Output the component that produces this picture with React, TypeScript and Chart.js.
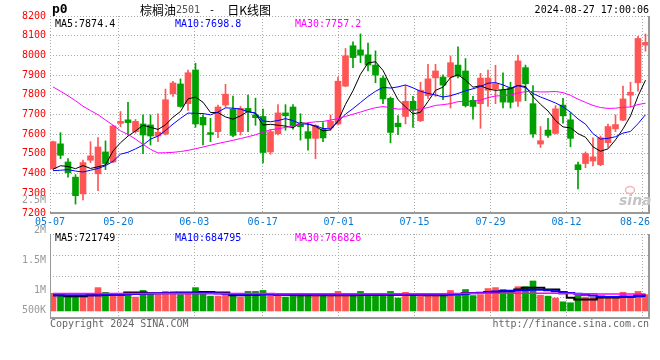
import React, { useEffect, useRef } from "react";
import { Chart, registerables } from "chart.js";

Chart.register(...registerables);

const dates = [
  "05-07","05-08","05-09","05-10","05-13","05-14","05-15","05-16","05-17","05-20",
  "05-21","05-22","05-23","05-24","05-27","05-28","05-29","05-30","05-31","06-03",
  "06-04","06-05","06-06","06-07","06-11","06-12","06-13","06-14","06-17","06-18",
  "06-19","06-20","06-21","06-24","06-25","06-26","06-27","06-28","07-01","07-02",
  "07-03","07-04","07-05","07-08","07-09","07-10","07-11","07-12","07-15","07-16",
  "07-17","07-18","07-19","07-22","07-23","07-24","07-25","07-26","07-29","07-30",
  "07-31","08-01","08-02","08-05","08-06","08-07","08-08","08-09","08-12","08-13",
  "08-14","08-15","08-16","08-19","08-20","08-21","08-22","08-23","08-26","08-27",
];

const open = [
  7425,7551,7459,7382,7297,7468,7399,7510,7459,7655,
  7673,7613,7652,7647,7591,7601,7805,7855,7755,7926,
  7686,7608,7613,7748,7727,7613,7731,7698,7690,7510,
  7602,7708,7738,7652,7613,7579,7627,7632,7652,7844,
  8049,8028,8003,7951,7885,7782,7656,7690,7767,7668,
  7796,7886,7890,7890,7951,7921,7772,7755,7823,7830,
  7823,7835,7767,7938,7755,7550,7621,7604,7748,7673,
  7445,7451,7464,7445,7557,7627,7671,7798,7861,8052,
];
const high = [
  7565,7608,7476,7395,7468,7562,7583,7566,7645,7715,
  7762,7675,7698,7698,7704,7829,7868,7881,7926,7960,
  7698,7681,7748,7853,7793,7741,7798,7783,7728,7624,
  7750,7750,7750,7704,7656,7648,7659,7698,7890,8035,
  8069,8109,8062,8023,7896,7789,7695,7847,7792,7864,
  7955,7955,7902,7997,8044,7984,7792,7909,7926,7950,
  7912,7864,8001,7951,7847,7639,7680,7745,7782,7710,
  7459,7510,7582,7591,7652,7698,7844,7864,8097,8109,
];
const low = [
  7420,7476,7382,7245,7266,7456,7313,7420,7455,7638,
  7595,7605,7501,7545,7562,7596,7792,7737,7721,7635,
  7545,7562,7583,7738,7587,7596,7613,7645,7454,7498,
  7596,7620,7626,7570,7519,7476,7562,7620,7647,7841,
  7938,7963,7921,7861,7755,7556,7597,7652,7635,7664,
  7782,7792,7775,7733,7886,7738,7676,7630,7741,7755,
  7733,7733,7741,7770,7584,7533,7584,7601,7656,7536,
  7322,7430,7439,7440,7533,7613,7669,7738,7818,8021,
];
const close = [
  7562,7493,7404,7288,7456,7490,7535,7451,7642,7665,
  7659,7665,7596,7591,7610,7775,7860,7741,7912,7652,
  7647,7599,7738,7803,7594,7731,7716,7684,7507,7613,
  7708,7694,7642,7638,7579,7644,7581,7666,7869,7998,
  7989,8001,7951,7900,7779,7609,7638,7767,7721,7823,
  7881,7921,7849,7963,7895,7745,7741,7885,7885,7856,
  7763,7762,7972,7856,7601,7567,7594,7729,7693,7579,
  7420,7502,7485,7582,7639,7649,7779,7813,8086,8066,
];

const ma5 = [
  7422,7440,7436,7425,7440.6,7426.2,7434.6,7444,7514.8,7556.6,
  7590.4,7616.4,7645.4,7635.2,7624.2,7647.4,7686.4,7715.4,7779.6,7788,
  7762.4,7710.2,7709.6,7687.8,7676.2,7693,7716.4,7705.6,7646.4,7650.2,
  7645.6,7641.2,7632.8,7659,7652.2,7639.4,7616.8,7621.6,7667.8,7751.6,
  7820.6,7904.6,7961.6,7967.8,7924,7848,7775.4,7738.6,7702.8,7711.6,
  7766,7822.6,7839,7887.4,7901.8,7874.6,7838.6,7845.8,7830.2,7822.4,
  7826,7830.2,7847.6,7841.8,7790.8,7751.6,7718,7669.4,7636.8,7632.4,
  7603,7584.6,7535.8,7513.6,7525.6,7571.4,7626.8,7692.4,7793.2,7874.4,
];
const ma10 = [
  7415,7417,7420,7413,7408,7417,7426,7440,7462,7498.6,
  7508.3,7525.5,7544.7,7575,7590.4,7618.9,7651.4,7680.4,7707.4,7706.1,
  7704.9,7698.3,7712.5,7733.7,7732.1,7727.7,7713.3,7707.6,7667.1,7663.2,
  7669.3,7678.8,7669.2,7652.7,7651.2,7642.5,7629,7627.2,7663.4,7701.9,
  7730,7760.7,7791.6,7817.8,7837.8,7834.3,7840,7850.1,7835.3,7817.8,
  7807,7799,7788.8,7795.1,7806.7,7820.3,7830.6,7842.4,7858.8,7862.1,
  7850.3,7834.4,7846.7,7836,7806.6,7788.8,7774.1,7758.5,7739.3,7711.6,
  7677.3,7651.3,7602.6,7575.2,7579,7587.2,7605.7,7614.1,7653.4,7698.8,
];
const ma30 = [
  7840,7818,7795,7770,7742,7720,7699,7672,7646,7617,
  7599,7575,7548,7523,7505,7506,7508,7512,7518,7526,
  7535,7544,7553,7561,7569,7578,7587,7597,7610,7622.6,
  7627.5,7634.2,7642.1,7653.8,7657.9,7663,7664.6,7671.7,7679.3,7690.4,
  7701.4,7712.6,7724.4,7734.7,7740.4,7734.8,7727.4,7728.3,7721.9,7727.6,
  7735.4,7746.2,7749.9,7755.2,7765.2,7765.7,7766.5,7773.2,7785.8,7793.9,
  7795.8,7798,7809,7816.3,7817,7814.5,7814.9,7817,7811.1,7797.2,
  7778.2,7761.6,7746,7735.4,7730.8,7732.1,7736.8,7738.3,7750.5,7757.2,
];

const volume = [
  804000,701000,645000,675000,688000,718000,1062000,847000,744000,744000,
  787000,632000,933000,847000,744000,890000,890000,744000,847000,1062000,
  847000,675000,675000,744000,701000,632000,890000,890000,933000,701000,
  701000,632000,675000,804000,701000,675000,675000,675000,890000,804000,
  675000,890000,701000,804000,804000,890000,589000,847000,701000,675000,
  744000,675000,744000,933000,701000,976000,701000,744000,1019000,1062000,
  976000,860000,1105000,1105000,1363000,718000,675000,589000,417000,374000,
  718000,632000,632000,632000,632000,632000,847000,632000,890000,744000,
];
const volMa5 = [
  714000,714000,669000,669000,669000,714000,714000,737000,737000,737000,
  837000,837000,837000,800000,800000,820000,820000,837000,837000,837000,
  860000,860000,837000,837000,714000,714000,737000,737000,760000,760000,
  737000,737000,737000,714000,714000,714000,714000,714000,714000,714000,
  714000,737000,737000,737000,737000,737000,737000,737000,737000,737000,
  714000,714000,714000,760000,760000,814000,814000,814000,860000,860000,
  900000,900000,973000,1050000,1050000,1050000,973000,973000,800000,600000,
  519000,519000,519000,610000,610000,610000,650000,650000,700000,721749,
];
const volMa10 = [
  720000,720000,720000,720000,720000,720000,720000,730000,740000,750000,
  760000,770000,780000,790000,800000,800000,800000,800000,800000,800000,
  800000,800000,790000,780000,770000,760000,760000,760000,760000,760000,
  750000,740000,730000,730000,730000,730000,730000,730000,730000,730000,
  730000,730000,730000,730000,740000,740000,740000,740000,740000,740000,
  740000,740000,740000,750000,760000,780000,800000,830000,860000,880000,
  900000,920000,940000,950000,960000,960000,940000,900000,860000,820000,
  780000,740000,700000,660000,640000,640000,640000,650000,670000,684795,
];
const volMa30 = [
  790000,790000,790000,790000,790000,790000,790000,790000,790000,790000,
  790000,790000,790000,790000,790000,790000,790000,790000,790000,790000,
  790000,790000,790000,790000,790000,790000,790000,790000,790000,790000,
  785000,785000,785000,785000,785000,785000,785000,785000,785000,785000,
  785000,785000,785000,785000,785000,785000,785000,785000,785000,785000,
  785000,785000,785000,790000,795000,800000,805000,810000,810000,810000,
  810000,810000,810000,810000,810000,810000,805000,800000,795000,790000,
  785000,780000,778000,775000,772000,770000,768000,767000,767000,766826,
];

const dateTicks = ["05-07","05-20","06-03","06-17","07-01","07-15","07-29","08-12","08-26"];
const volTickLabels = ["2.5M","2M","1.5M","1M","500K"];

const UP_COLOR = "#ff5555";
const DOWN_COLOR = "#00a000";
const MA5_COLOR = "#000000";
const MA10_COLOR = "#0000ff";
const MA30_COLOR = "#ff00ff";
const GRID_COLOR = "#a8a8a8";
const FRAME_COLOR = "#999999";
const MONO = "'DejaVu Sans Mono', 'Liberation Mono', monospace";
const CJK = "'Noto Sans CJK SC', sans-serif";

export default function App() {
  const mainRef = useRef<HTMLCanvasElement | null>(null);
  const volRef = useRef<HTMLCanvasElement | null>(null);

  useEffect(() => {
    const n = dates.length;
    const xMin = -0.4;
    const xMax = n - 0.4;
    const idx = dates.map((_, i) => i);
    const colors = idx.map((i) => (close[i] >= open[i] ? UP_COLOR : DOWN_COLOR));
    const tickValue = (label: string) => xMin + ((xMax - xMin) * dates.indexOf(label)) / (n - 1);

    const makeX = (height: number) => ({
      type: "linear",
      min: xMin,
      max: xMax,
      offset: false,
      afterBuildTicks: (s: any) => {
        s.ticks = dateTicks.map((d) => ({ value: tickValue(d) }));
      },
      afterFit: (s: any) => {
        s.height = height;
      },
      ticks: { display: false },
      grid: { color: GRID_COLOR, drawTicks: false, offset: false },
      border: { display: false, dash: [1, 2] },
    });

    const last = (a: number[]) => a[a.length - 1];

    const mainPlugin = {
      id: "mainDecor",
      afterDraw(chart: any) {
        const { ctx, chartArea: a, scales } = chart;
        ctx.save();
        ctx.strokeStyle = FRAME_COLOR;
        ctx.lineWidth = 2;
        ctx.beginPath();
        ctx.moveTo(a.left, a.bottom);
        ctx.lineTo(a.right, a.bottom);
        ctx.moveTo(a.right - 1, a.top);
        ctx.lineTo(a.right - 1, a.bottom);
        ctx.stroke();

        ctx.textBaseline = "middle";
        ctx.textAlign = "left";
        ctx.fillStyle = "#000";
        ctx.font = `bold 13px ${MONO}`;
        ctx.fillText("p0", 52, 10);

        let x = 140;
        ctx.font = `12px ${CJK}`;
        ctx.fillText("棕榈油", x, 10);
        x += ctx.measureText("棕榈油").width;
        ctx.font = `10px ${MONO}`;
        ctx.fillStyle = "#555";
        ctx.fillText("2501", x, 10);
        x += ctx.measureText("2501").width;
        ctx.fillStyle = "#000";
        ctx.fillText(" - ", x + 3, 10);
        x += ctx.measureText(" - ").width + 9;
        ctx.font = `12px ${CJK}`;
        ctx.fillText("日K线图", x, 10);

        ctx.font = `10px ${MONO}`;
        ctx.textAlign = "right";
        ctx.fillText("2024-08-27 17:00:06", 649, 10);

        ctx.textAlign = "left";
        ctx.fillStyle = MA5_COLOR;
        ctx.fillText("MA5:" + last(ma5).toFixed(1), 55, 24);
        ctx.fillStyle = MA10_COLOR;
        ctx.fillText("MA10:" + last(ma10).toFixed(1), 175, 24);
        ctx.fillStyle = MA30_COLOR;
        ctx.fillText("MA30:" + last(ma30).toFixed(1), 295, 24);

        ctx.fillStyle = "#0a78d0";
        for (const d of dateTicks) {
          const px = scales.x.getPixelForValue(tickValue(d));
          const w = ctx.measureText(d).width;
          let left = px - w / 2;
          if (left + w > a.right) left = a.right - w;
          ctx.fillText(d, left, 222);
        }

        ctx.font = `italic bold 14px 'DejaVu Sans', sans-serif`;
        ctx.fillStyle = "#c4c4c4";
        ctx.fillText("sina", 619, 201);
        ctx.strokeStyle = "#f2b8b8";
        ctx.lineWidth = 1.5;
        ctx.beginPath();
        ctx.ellipse(630, 190, 4.5, 3.5, 0, 0, Math.PI * 2);
        ctx.stroke();
        ctx.restore();
      },
    };

    const volMin = -320000;
    const volMax = 3500000;

    const volPlugin = {
      id: "volDecor",
      afterDraw(chart: any) {
        const { ctx, chartArea: a } = chart;
        ctx.save();
        ctx.strokeStyle = FRAME_COLOR;
        ctx.lineWidth = 1;
        ctx.beginPath();
        ctx.moveTo(a.left + 0.5, a.top);
        ctx.lineTo(a.left + 0.5, a.bottom);
        ctx.stroke();
        ctx.lineWidth = 2;
        ctx.beginPath();
        ctx.moveTo(a.left, a.bottom);
        ctx.lineTo(a.right, a.bottom);
        ctx.moveTo(a.right - 1, a.top);
        ctx.lineTo(a.right - 1, a.bottom);
        ctx.stroke();

        ctx.textBaseline = "middle";
        ctx.font = `10px ${MONO}`;
        ctx.textAlign = "left";
        ctx.fillStyle = MA5_COLOR;
        ctx.fillText("MA5:" + Math.round(last(volMa5)), 55, 238);
        ctx.fillStyle = MA10_COLOR;
        ctx.fillText("MA10:" + Math.round(last(volMa10)), 175, 238);
        ctx.fillStyle = MA30_COLOR;
        ctx.fillText("MA30:" + Math.round(last(volMa30)), 295, 238);

        ctx.textAlign = "right";
        ctx.fillStyle = "#999";
        volTickLabels.forEach((t, j) => {
          const y = Math.min(a.top - 34 + j * 30, a.bottom - 8);
          ctx.fillText(t, 46, y);
        });

        ctx.fillStyle = "#666";
        ctx.textAlign = "left";
        ctx.fillText("Copyright 2024 SINA.COM", 50, 324);
        ctx.textAlign = "right";
        ctx.fillText("http://finance.sina.com.cn", 649, 324);
        ctx.restore();
      },
    };

    const lineDs = (data: number[], color: string, width: number, stepped: any = false) => ({
      type: "line",
      data: idx.map((i) => ({ x: i, y: data[i] })),
      borderColor: color,
      borderWidth: width,
      pointRadius: 0,
      tension: 0,
      stepped,
      order: 0,
    });

    const mainChart = new Chart(mainRef.current as HTMLCanvasElement, {
      type: "bar",
      data: {
        datasets: [
          {
            type: "bar",
            data: idx.map((i) => ({ x: i, y: [low[i], high[i]] })),
            backgroundColor: colors,
            barThickness: 1,
            grouped: false,
            order: 3,
          },
          {
            type: "bar",
            data: idx.map((i) => ({ x: i, y: [open[i], close[i]] })),
            backgroundColor: colors,
            barThickness: 6,
            minBarLength: 1,
            grouped: false,
            order: 2,
          },
          lineDs(ma30, MA30_COLOR, 1),
          lineDs(ma10, MA10_COLOR, 1),
          lineDs(ma5, MA5_COLOR, 1),
        ] as any,
      },
      options: {
        animation: false,
        responsive: false,
        devicePixelRatio: 1,
        events: [],
        layout: { padding: { top: 16, right: 10, left: 0, bottom: 0 } },
        plugins: { legend: { display: false }, tooltip: { enabled: false } },
        scales: {
          x: makeX(147) as any,
          y: {
            min: 7200,
            max: 8200,
            afterFit: (s: any) => {
              s.width = 50;
            },
            ticks: {
              stepSize: 100,
              color: "#ff0000",
              font: { family: MONO, size: 10 },
              padding: 4,
              callback: (v: any) => String(v),
            },
            grid: { color: GRID_COLOR, drawTicks: false },
            border: { display: false, dash: [1, 2] },
          },
        },
      },
      plugins: [mainPlugin],
    } as any);

    const volChart = new Chart(volRef.current as HTMLCanvasElement, {
      type: "bar",
      data: {
        datasets: [
          {
            type: "bar",
            data: idx.map((i) => ({ x: i, y: volume[i] })),
            backgroundColor: colors,
            barThickness: 6,
            grouped: false,
            order: 2,
          },
          lineDs(volMa30, MA30_COLOR, 1.5, "middle"),
          lineDs(volMa10, MA10_COLOR, 2, "middle"),
          lineDs(volMa5, MA5_COLOR, 2, "middle"),
        ] as any,
      },
      options: {
        animation: false,
        responsive: false,
        devicePixelRatio: 1,
        events: [],
        layout: { padding: { top: 234, right: 10, left: 0, bottom: 0 } },
        plugins: { legend: { display: false }, tooltip: { enabled: false } },
        scales: {
          x: makeX(42) as any,
          y: {
            min: volMin,
            max: volMax,
            afterFit: (s: any) => {
              s.width = 50;
            },
            afterBuildTicks: (s: any) => {
              s.ticks = [0, 1, 2, 3, 4].map((j) => ({ value: volMin + ((volMax - volMin) * j) / 4 }));
            },
            ticks: { display: false },
            grid: { color: GRID_COLOR, drawTicks: false },
            border: { display: false, dash: [1, 2] },
          },
        },
      },
      plugins: [volPlugin],
    } as any);

    return () => {
      mainChart.destroy();
      volChart.destroy();
    };
  }, []);

  return (
    <div style={{ position: "fixed", left: 0, top: 0, width: 660, height: 360, background: "#fff" }}>
      <canvas ref={mainRef} width={660} height={360} style={{ position: "absolute", left: 0, top: 0 }} />
      <canvas ref={volRef} width={660} height={360} style={{ position: "absolute", left: 0, top: 0 }} />
    </div>
  );
}
